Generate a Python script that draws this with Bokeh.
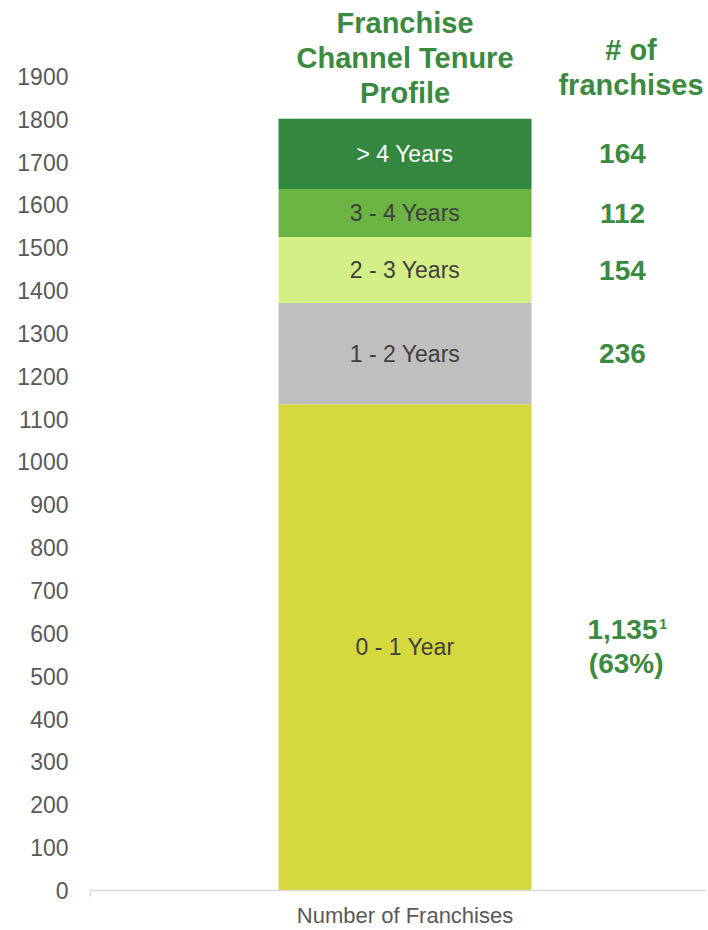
from bokeh.plotting import figure
from bokeh.models import Range1d, FixedTicker, ColumnDataSource
from bokeh.core.properties import value
from bokeh.embed import file_html
from bokeh.resources import INLINE

# ---- data ----
segments = ["0 - 1 Year", "1 - 2 Years", "2 - 3 Years", "3 - 4 Years", "> 4 Years"]
counts = [1135, 236, 154, 112, 164]
count_labels = ["1,135", "236", "154", "112", "164"]
share_label = "(63%)"
footnote = "1"
colors = ["#D4D93E", "#BFBFBF", "#D4EF86", "#6BB342", "#33873F"]
seg_text_colors = ["#404040", "#404040", "#404040", "#404040", "#FFFFFF"]
y_ticks = list(range(0, 2000, 100))
category = "Number of Franchises"
header_left = ["Franchise", "Channel Tenure", "Profile"]
header_right = ["# of", "franchises"]

GREEN = "#3A8A40"
GRAY = "#595959"
FONT = "Liberation Sans"

W, H = 706, 930
FRAME_L, FRAME_B = 90, 892          # screen px of frame left / bottom
PPU = (892 - 76) / 1900.0           # px per data unit
Y_TOP = FRAME_B / PPU

def ys(px):
    """screen y (px from top) -> data y"""
    return (FRAME_B - px) / PPU

bottoms, tops, mids = [], [], []
acc = 0
for c in counts:
    bottoms.append(acc)
    acc += c
    tops.append(acc)
    mids.append((bottoms[-1] + tops[-1]) / 2)

BAR_X = 0.5106
BAR_W = 0.4107
NUM_X = 0.8636
HDR_R_X = 0.8774

p = figure(width=W, height=H, output_backend="svg", toolbar_location=None,
           x_range=Range1d(0, 1), y_range=Range1d(0, Y_TOP),
           min_border_left=FRAME_L, min_border_right=0, min_border_top=0,
           min_border_bottom=H - FRAME_B)
p.outline_line_color = None
p.grid.visible = False

src = ColumnDataSource(dict(x=[BAR_X] * len(counts), bottom=bottoms, top=tops, color=colors,
                            mid=mids, seg=segments, tcol=seg_text_colors))
p.vbar(x="x", width=BAR_W, bottom="bottom", top="top", fill_color="color",
       line_color=None, source=src)

p.text(x="x", y="mid", text="seg", text_color="tcol", source=src,
       text_align="center", text_baseline="middle",
       text_font=value(FONT), text_font_size="23px")

# right-side counts (segments 2..5)
sub = ColumnDataSource(dict(nx=[NUM_X] * 4, mid=mids[1:], num=count_labels[1:]))
p.text(x="nx", y="mid", text="num", source=sub,
       text_align="center", text_baseline="middle", text_color=GREEN,
       text_font=value(FONT), text_font_size="28px", text_font_style="bold")

# first segment: value, footnote marker, share
p.text(x=[NUM_X], y=[mids[0] + 18 / PPU], text=[count_labels[0]],
       text_align="center", text_baseline="middle", text_color=GREEN,
       text_font=value(FONT), text_font_size="28px", text_font_style="bold")
p.text(x=[NUM_X + 0.0595], y=[mids[0] + 23 / PPU], text=[footnote],
       text_align="left", text_baseline="middle", text_color=GREEN,
       text_font=value(FONT), text_font_size="14px", text_font_style="bold")
p.text(x=[NUM_X + 0.006], y=[mids[0] - 16 / PPU], text=[share_label],
       text_align="center", text_baseline="middle", text_color=GREEN,
       text_font=value(FONT), text_font_size="28px", text_font_style="bold")

# headers
for i, t in enumerate(header_left):
    p.text(x=[BAR_X], y=[ys(23 + 35 * i)], text=[t],
           text_align="center", text_baseline="middle", text_color=GREEN,
           text_font=value(FONT), text_font_size="29px", text_font_style="bold")
for i, t in enumerate(header_right):
    p.text(x=[HDR_R_X], y=[ys(50 + 35 * i)], text=[t],
           text_align="center", text_baseline="middle", text_color=GREEN,
           text_font=value(FONT), text_font_size="29px", text_font_style="bold")

# y axis
ya = p.yaxis[0]
ya.ticker = FixedTicker(ticks=y_ticks)
ya.axis_line_color = None
ya.major_tick_line_color = None
ya.major_tick_out = 0
ya.major_tick_in = 0
ya.minor_tick_line_color = None
ya.major_label_standoff = 22
ya.major_label_text_font = FONT
ya.major_label_text_font_size = "23px"
ya.major_label_text_color = GRAY

# x axis: category label under the bar, small tick at the left end
xa = p.xaxis[0]
xa.ticker = FixedTicker(ticks=[BAR_X], minor_ticks=[0.0005])
xa.major_label_overrides = {BAR_X: category}
xa.axis_line_color = "#D9D9D9"
xa.axis_line_width = 1.5
xa.major_tick_line_color = None
xa.major_tick_in = 0
xa.major_tick_out = 0
xa.minor_tick_line_color = "#D9D9D9"
xa.minor_tick_line_width = 1.5
xa.minor_tick_in = 0
xa.minor_tick_out = 6
xa.major_label_standoff = 6
xa.major_label_text_font = FONT
xa.major_label_text_font_size = "22px"
xa.major_label_text_color = GRAY

open("out.html", "w").write(file_html(p, INLINE))
